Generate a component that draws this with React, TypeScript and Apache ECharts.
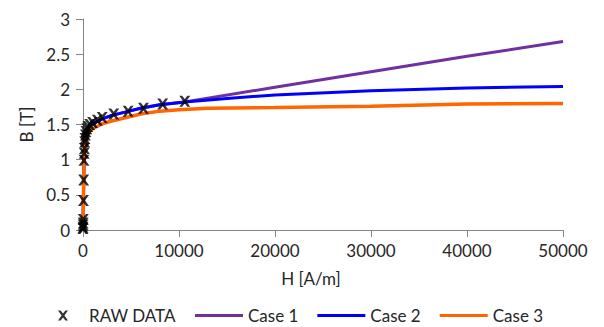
import React, { useEffect, useRef } from "react";
import * as echarts from "echarts";

// Raw measured data (H in A/m, B in T)
const rawH = [0, 5, 10, 20, 30, 50, 70, 100, 130, 150, 180, 200, 250, 300, 400, 500, 700, 1000, 1500, 2000, 3200, 4700, 6300, 8300, 10600];
const rawB = [0.02, 0.04, 0.07, 0.1, 0.15, 0.42, 0.71, 0.99, 1.09, 1.16, 1.25, 1.3, 1.35, 1.4, 1.44, 1.47, 1.5, 1.53, 1.56, 1.6, 1.65, 1.69, 1.73, 1.79, 1.83];

// Case 1
const case1H = [0, 50, 100, 200, 400, 700, 1000, 2000, 3000, 4500, 6000, 8000, 10600, 20000, 30000, 40000, 50000];
const case1B = [0, 0.5, 1.0, 1.28, 1.4, 1.47, 1.51, 1.58, 1.63, 1.68, 1.73, 1.78, 1.82, 2.03, 2.25, 2.47, 2.68];

// Case 2
const case2H = [0, 50, 100, 200, 400, 700, 1000, 2000, 3000, 4500, 6000, 8000, 10600, 15000, 20000, 30000, 40000, 50000];
const case2B = [0, 0.5, 1.0, 1.28, 1.4, 1.47, 1.51, 1.58, 1.63, 1.68, 1.73, 1.78, 1.82, 1.87, 1.92, 1.98, 2.02, 2.04];

// Case 3
const case3H = [0, 50, 100, 200, 400, 700, 1000, 2000, 3000, 4500, 6000, 8000, 10000, 13000, 20000, 30000, 40000, 50000];
const case3B = [0, 0.5, 0.95, 1.2, 1.33, 1.4, 1.44, 1.51, 1.55, 1.6, 1.65, 1.69, 1.71, 1.73, 1.74, 1.76, 1.79, 1.8];

const xTicks = [0, 10000, 20000, 30000, 40000, 50000];
const yTicks = [0, 0.5, 1, 1.5, 2, 2.5, 3];

const zip = (a: number[], b: number[]) => a.map((v, i) => [v, b[i]]);

const FONT = 'Lato, "Liberation Sans", Arial, sans-serif';
const FS = 17;
const TEXT = "#262626";
const AXIS = "#868686";
const XMARK = "path://M0,0L2.6,0L5,3L7.4,0L10,0L6.4,5L10,10L7.4,10L5,7L2.6,10L0,10L3.6,5Z";

export default function App() {
  const ref = useRef<HTMLDivElement>(null);
  useEffect(() => {
    if (!ref.current) return;
    const chart = echarts.init(ref.current, undefined, { renderer: "svg" });
    chart.setOption({
      animation: false,
      backgroundColor: "#ffffff",
      grid: { left: 83, right: 41, top: 19, bottom: 97 },
      xAxis: {
        type: "value",
        min: xTicks[0],
        max: xTicks[xTicks.length - 1],
        interval: 10000,
        name: "H [A/m]",
        nameLocation: "middle",
        nameGap: 40,
        nameTextStyle: { fontFamily: FONT, fontSize: FS, color: TEXT, padding: [0, 24, 0, 0] },
        axisLine: { lineStyle: { color: AXIS, width: 1 } },
        axisTick: { show: true, inside: false, length: 7, lineStyle: { color: AXIS } },
        axisLabel: { fontFamily: FONT, fontSize: FS, color: TEXT, margin: 12, formatter: (v: number) => String(v) },
        splitLine: { show: false },
      },
      yAxis: {
        type: "value",
        min: yTicks[0],
        max: yTicks[yTicks.length - 1],
        interval: 0.5,
        name: "B [T]",
        nameLocation: "middle",
        nameGap: 45,
        nameTextStyle: { fontFamily: FONT, fontSize: FS, color: TEXT },
        axisLine: { show: true, lineStyle: { color: AXIS, width: 1 } },
        axisTick: { show: true, inside: false, length: 7, lineStyle: { color: AXIS } },
        axisLabel: { fontFamily: FONT, fontSize: FS, color: TEXT, margin: 13, formatter: (v: number) => String(v) },
        splitLine: { show: false },
      },
      legend: [
        {
          data: [{ name: "RAW DATA", icon: XMARK }],
          left: 53,
          top: 302,
          itemWidth: 10,
          itemHeight: 10,
          textStyle: { fontFamily: FONT, fontSize: FS, color: TEXT, padding: [0, 0, 0, 16] },
        },
        {
          data: [
            { name: "Case 1", icon: "rect" },
            { name: "Case 2", icon: "rect" },
            { name: "Case 3", icon: "rect" },
          ],
          left: 190,
          top: 302,
          itemWidth: 48,
          itemHeight: 3,
          itemGap: 19,
          textStyle: { fontFamily: FONT, fontSize: FS, color: TEXT },
        },
      ],
      series: [
        {
          name: "Case 1",
          type: "line",
          data: zip(case1H, case1B),
          showSymbol: false,
          lineStyle: { color: "#7030A0", width: 3 },
          itemStyle: { color: "#7030A0" },
          z: 2,
        },
        {
          name: "Case 2",
          type: "line",
          data: zip(case2H, case2B),
          showSymbol: false,
          lineStyle: { color: "#0000FF", width: 3 },
          itemStyle: { color: "#0000FF" },
          z: 3,
        },
        {
          name: "Case 3",
          type: "line",
          data: zip(case3H, case3B),
          showSymbol: false,
          lineStyle: { color: "#FF6600", width: 3.5 },
          itemStyle: { color: "#FF6600" },
          z: 4,
        },
        {
          name: "RAW DATA",
          type: "scatter",
          data: zip(rawH, rawB),
          symbol: XMARK,
          symbolSize: 11,
          itemStyle: { color: "#000000" },
          z: 5,
        },
      ],
    });
    return () => chart.dispose();
  }, []);
  return (
    <div
      ref={ref}
      style={{ position: "absolute", left: 0, top: 0, width: 604, height: 327 }}
    />
  );
}
